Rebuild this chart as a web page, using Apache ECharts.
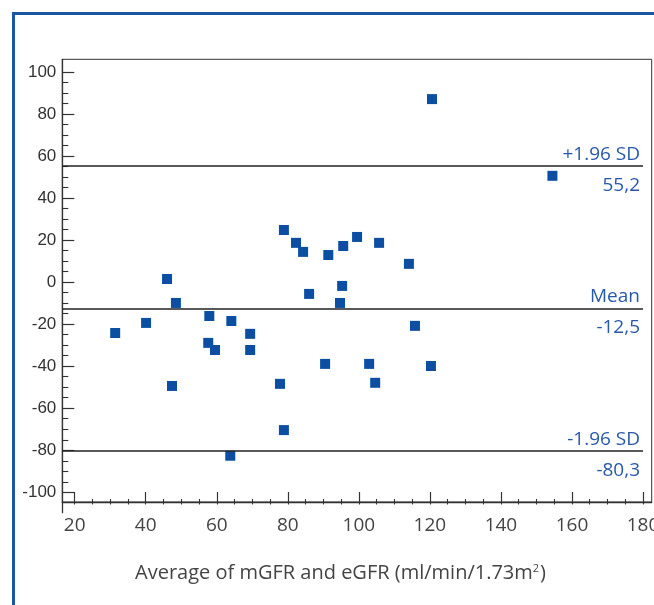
<!DOCTYPE html>
<html>
<head>
<meta charset="utf-8">
<script src="https://cdn.jsdelivr.net/npm/echarts@6/dist/echarts.min.js"></script>
<style>
  html, body { margin: 0; padding: 0; background: #ffffff; overflow: hidden; width: 654px; height: 605px; }
  #frame { position: absolute; left: 12px; top: 12px; width: 642px; height: 593px;
           border-left: 3px solid #1b56a4; border-top: 3px solid #1b56a4; box-sizing: border-box; }
  #chart { position: absolute; left: 0; top: 0; width: 654px; height: 605px; }
</style>
</head>
<body>
<div id="frame"></div>
<div id="chart"></div>
<script>
// ---- data ----
const avgGFR  = [78.9, 82.3, 84.3, 46.0, 86.0, 48.5, 57.9, 64.1, 40.1, 31.4, 69.4, 57.6, 59.5, 69.4, 47.4, 77.8, 78.9, 63.8,
                 91.4, 95.6, 99.5, 105.7, 114.1, 95.3, 94.7, 115.8, 90.5, 102.9, 120.3, 104.6, 120.6, 154.5];
const diffGFR = [24.8, 18.7, 14.4, 1.5, -5.6, -9.9, -16.1, -18.5, -19.4, -24.2, -24.6, -28.9, -32.3, -32.3, -49.4, -48.4, -70.4, -82.6,
                 12.9, 17.2, 21.5, 18.7, 8.7, -1.8, -9.9, -20.8, -38.9, -38.9, -39.9, -47.9, 87.1, 50.6];
const sdNames  = ['+1.96 SD', 'Mean', '-1.96 SD'];
const sdValues = [55.2, -12.5, -80.3];
const sdLabels = ['55,2', '-12,5', '-80,3'];
const xMajorTicks = [20, 40, 60, 80, 100, 120, 140, 160, 180];
const xMinorTicks = [25, 30, 35, 45, 50, 55, 65, 70, 75, 85, 90, 95, 105, 110, 115, 125, 130, 135, 145, 150, 155, 165, 170, 175];
const yMajorTicks = [-100, -80, -60, -40, -20, 0, 20, 40, 60, 80, 100];
const yMinorTicks = [-95, -90, -85, -75, -70, -65, -55, -50, -45, -35, -30, -25, -15, -10, -5,
                     5, 10, 15, 25, 30, 35, 45, 50, 55, 65, 70, 75, 85, 90, 95];
const xTitleMain = 'Average of mGFR and eGFR (ml/min/1.73m';
const xTitleSup = '2';
const xTitleEnd = ')';

// ---- layout constants ----
const X_MIN = 16.51, X_MAX = 182.45, Y_MIN = -104.62, Y_MAX = 106.04;
const LINE_END = 180;
const AXIS_COLOR = '#333';
const LABEL_BLUE = '#2859a8';

const xAllTicks = xMajorTicks.concat(xMinorTicks).sort((a, b) => a - b);

const markData = [];
sdValues.forEach((v, i) => {
  markData.push([
    { coord: [X_MIN, v], label: { formatter: sdNames[i], position: 'insideEndTop', distance: [3, 2] } },
    { coord: [LINE_END, v] }
  ]);
  markData.push([
    { coord: [X_MIN, v], lineStyle: { color: 'rgba(0,0,0,0)' },
      label: { formatter: sdLabels[i], position: 'insideEndBottom', distance: [3, 10] } },
    { coord: [LINE_END, v] }
  ]);
});

const chart = echarts.init(document.getElementById('chart'), null, { renderer: 'canvas', width: 654, height: 605 });
const baseX = { type: 'value', min: X_MIN, max: X_MAX, position: 'bottom', splitLine: { show: false } };
const baseY = { type: 'value', min: Y_MIN, max: Y_MAX, position: 'left', splitLine: { show: false } };

chart.setOption({
  animation: false,
  backgroundColor: 'transparent',
  title: {
    text: '{n|' + xTitleMain + '}{s|' + xTitleSup + '}{n|' + xTitleEnd + '}',
    left: 340.5, top: 561, textAlign: 'center', padding: 0,
    textStyle: {
      fontFamily: 'Open Sans', fontSize: 20, fontWeight: 'normal', color: '#444',
      rich: {
        n: { fontFamily: 'Open Sans', fontSize: 20, color: '#444', lineHeight: 24 },
        s: { fontFamily: 'Open Sans', fontSize: 11, color: '#444', verticalAlign: 'top', lineHeight: 24, padding: [2, 1, 0, 0] }
      }
    }
  },
  grid: [
    { left: 62.3, right: 2.3, top: 59.3, bottom: 103, show: true, borderColor: AXIS_COLOR, borderWidth: 1,
      containLabel: false, outerBoundsMode: 'none' },
    { left: 62.3, width: 10, top: 502, height: 10.7, containLabel: false, outerBoundsMode: 'none' }
  ],
  xAxis: [
    Object.assign({}, baseX, {
      gridIndex: 0,
      axisLine: { show: true, onZero: false, lineStyle: { color: AXIS_COLOR, width: 1.3 } },
      axisTick: { show: true, inside: true, length: 10, customValues: xMajorTicks, lineStyle: { color: AXIS_COLOR, width: 1.2 } },
      axisLabel: { show: true, customValues: xMajorTicks, margin: 14, fontFamily: 'Open Sans', fontSize: 19, color: '#444',
                   hideOverlap: false }
    }),
    Object.assign({}, baseX, {
      gridIndex: 0,
      axisLine: { show: false, onZero: false },
      axisTick: { show: true, inside: true, length: 3, customValues: xMinorTicks, lineStyle: { color: AXIS_COLOR, width: 1.1 } },
      axisLabel: { show: false }
    }),
    Object.assign({}, baseX, {
      gridIndex: 0,
      axisLine: { show: false, onZero: false },
      axisTick: { show: true, inside: false, length: 2.5, customValues: xAllTicks, lineStyle: { color: AXIS_COLOR, width: 1.1 } },
      axisLabel: { show: false }
    }),
    { type: 'value', gridIndex: 1, show: false }
  ],
  yAxis: [
    Object.assign({}, baseY, {
      gridIndex: 0,
      axisLine: { show: true, onZero: false, lineStyle: { color: AXIS_COLOR, width: 1.3 } },
      axisTick: { show: true, inside: true, length: 12, customValues: yMajorTicks, lineStyle: { color: AXIS_COLOR, width: 1.2 } },
      axisLabel: { show: true, customValues: yMajorTicks, margin: 6, fontFamily: 'Liberation Sans', fontSize: 17, color: '#333' }
    }),
    Object.assign({}, baseY, {
      gridIndex: 0,
      axisLine: { show: false, onZero: false },
      axisTick: { show: true, inside: true, length: 6, customValues: yMinorTicks, lineStyle: { color: AXIS_COLOR, width: 1.1 } },
      axisLabel: { show: false }
    }),
    {
      type: 'value', gridIndex: 1, position: 'left', splitLine: { show: false },
      axisLine: { show: true, onZero: false, lineStyle: { color: AXIS_COLOR, width: 1.3 } },
      axisTick: { show: false }, axisLabel: { show: false }
    }
  ],
  series: [{
    type: 'scatter',
    xAxisIndex: 0, yAxisIndex: 0,
    symbol: 'rect', symbolSize: 10,
    itemStyle: { color: '#0b4ea2', opacity: 1 },
    data: avgGFR.map((x, i) => [x, diffGFR[i]]),
    markLine: {
      silent: true, symbol: ['none', 'none'], animation: false,
      lineStyle: { color: '#222', width: 1.5, type: 'solid' },
      label: { color: LABEL_BLUE, fontFamily: 'Open Sans', fontSize: 19 },
      emphasis: { disabled: true },
      data: markData
    }
  }]
});
</script>
</body>
</html>
